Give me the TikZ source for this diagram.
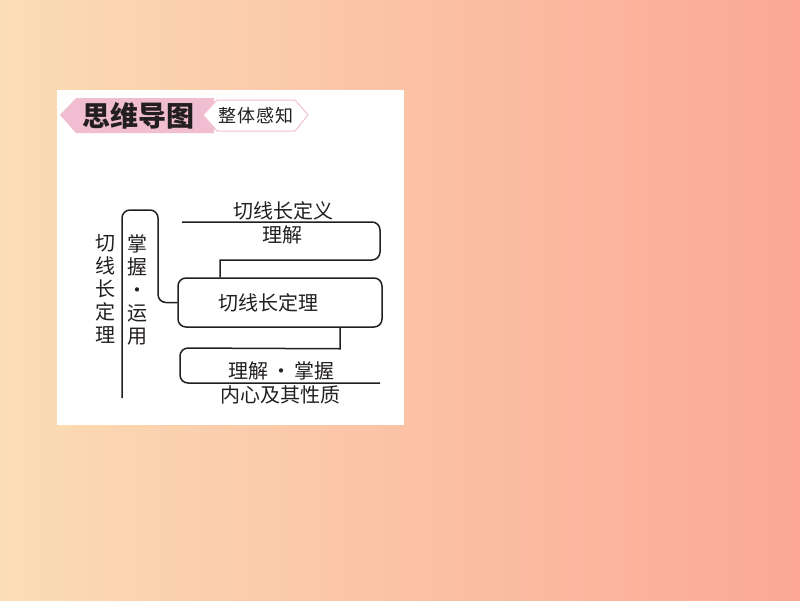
\documentclass[tikz,border=0pt]{standalone}
\usepackage{fontspec}
\newfontfamily\cjk{Noto Sans CJK SC}
\usetikzlibrary{positioning}
\definecolor{peach}{RGB}{251,221,181}
\definecolor{salmon}{RGB}{251,168,150}
\definecolor{headpink}{RGB}{240,190,208}
\definecolor{ink}{RGB}{35,31,32}

\begin{document}
\begin{tikzpicture}[x=1pt,y=-1pt]
	\tikzstyle{word}=[inner sep=0pt,font=\cjk\fontsize{20}{23}\selectfont,text=ink]
	\tikzstyle{column}=[word,align=center]
	\tikzstyle{frame}=[draw=ink,line width=1.5pt,rounded corners=8pt]
	\tikzstyle{bar}=[draw=ink,line width=1.5pt]

	\useasboundingbox (0,0) rectangle (800,600);
	\shade[left color=peach,right color=salmon] (0,0) rectangle (800,600);
	\fill[white] (57,90) rectangle (404,425);

	% header
	\fill[headpink] (60,115) -- (76,98) -- (214,98) -- (214,133) -- (76,133) -- cycle;
	\filldraw[fill=white,draw=headpink,line width=1pt] (203,115) -- (217,100) -- (295,100) -- (308,115) -- (295,131) -- (217,131) -- cycle;
	\node[word,font=\cjk\bfseries\fontsize{28}{28}\selectfont] (title) at (138,116) {思维导图};
	\node[word,font=\cjk\fontsize{18}{18}\selectfont] (tag) at (256,116) {整\hspace{1pt}体\hspace{1pt}感\hspace{1pt}知};

	% main box
	\node[frame,minimum width=204pt,minimum height=49pt] (thm) at (280,302.5) {};
	\node[word] (thmtext) at ([xshift=-12pt]thm.center) {切线长定理};

	\node[column] (topic) at (105,289) {切\\线\\长\\定\\理};
	\node[column] (skill) at (137,290) {掌\\握\\·\\运\\用};

	\node[word] (def) at (283,211) {切线长定义};
	\node[word] (defnote) at (282,235) {理解};
	\node[word] (incircle) at (281,371) {理解\hspace{3pt}·\hspace{3pt}掌握};
	\node[word] (incnote) at (280,395) {内心及其性质};

	\coordinate (bracketfoot) at (122,398);
	\coordinate (defstart) at (182,222);
	\coordinate (incend) at (380,383);

	\draw[bar] (bracketfoot) [rounded corners=8pt] -- (122,210) -- (158,210) -- (158,302.5) [sharp corners] -- (thm.west);
	\draw[bar] (defstart) [rounded corners=8pt] -- (380,222) -- (380,260) [sharp corners] -- (220,260) -- (220,0 |- thm.north);
	\draw[bar] ([xshift=60pt]thm.south) -- ++(0,21) [rounded corners=8pt] -- (180,348) -- (180,383) -- (incend);
\end{tikzpicture}
\end{document}
